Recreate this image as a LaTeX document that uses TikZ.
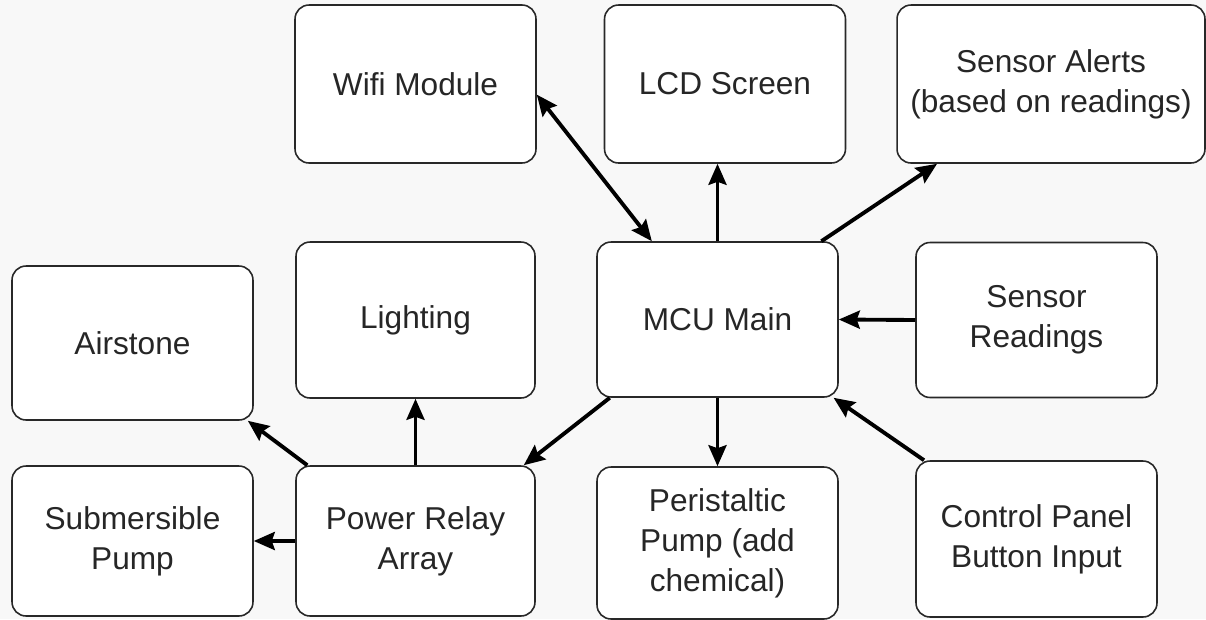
\documentclass[tikz,border=0pt]{standalone}
\usepackage{fontspec}
\setmainfont{Liberation Sans}
\usetikzlibrary{arrows.meta}
\definecolor{bggray}{RGB}{248,248,248}
\definecolor{boxline}{RGB}{40,40,40}

\begin{document}
\begin{tikzpicture}[x=0.02cm,y=-0.02cm,
        >={Stealth[length=0.42cm,width=0.36cm,inset=0.06cm]},
        block/.style={draw=boxline, line width=0.9pt, fill=white, rounded corners=0.28cm,
            align=center, inner sep=0pt, minimum width=4.82cm, minimum height=3.1cm,
            font=\fontsize{18}{22.7}\selectfont, text=black!85},
        link/.style={line width=2.2pt, ->}]
            \useasboundingbox (0,0) rectangle (1206,619);
            \fill[bggray] (0,0) rectangle (1206,619);

            \node[block, minimum height=3.16cm] (wifi) at (415.5,84) {Wifi Module};
            \node[block, minimum height=3.16cm] (lcd) at (725,84) {LCD Screen};
            \node[block, minimum height=3.16cm, minimum width=6.16cm] (alerts) at (1051,84) {Sensor Alerts\\(based on readings)};

            \node[block, minimum height=3.08cm] (air) at (132.5,343) {Airstone};
            \node[block, minimum height=3.12cm, minimum width=4.78cm] (light) at (415.5,320) {Lighting};
            \node[block] (mcu) at (717.5,319.5) {MCU Main};
            \node[block] (readings) at (1036.5,320) {Sensor\\Readings};

            \node[block, minimum height=3cm] (sub) at (132.5,541) {Submersible\\Pump};
            \node[block, minimum height=3cm, minimum width=4.78cm] (relay) at (415.5,541) {Power Relay\\Array};
            \node[block, minimum height=3.04cm] (peri) at (717.5,543) {Peristaltic\\Pump (add\\chemical)};
            \node[block, minimum height=3.12cm] (ctrl) at (1036.5,539) {Control Panel\\Button Input};

            \draw[link, <->] (wifi.-5) -- (mcu.130);
            \draw[link] (mcu.north) -- (mcu.north |- lcd.south);
            \draw[link] (mcu.37) -- (alerts.215);
            \draw[link] (readings.west) -- (mcu.east);
            \draw[link] (mcu.216) -- (relay.35);
            \draw[link] (mcu.south) -- (peri.north);
            \draw[link] (ctrl.145) -- (mcu.-34);
            \draw[link] (relay.145) -- (air.-34);
            \draw[link] (relay.north) -- (light.south);
            \draw[link] (relay.west) -- (sub.east);
        \end{tikzpicture}
\end{document}
